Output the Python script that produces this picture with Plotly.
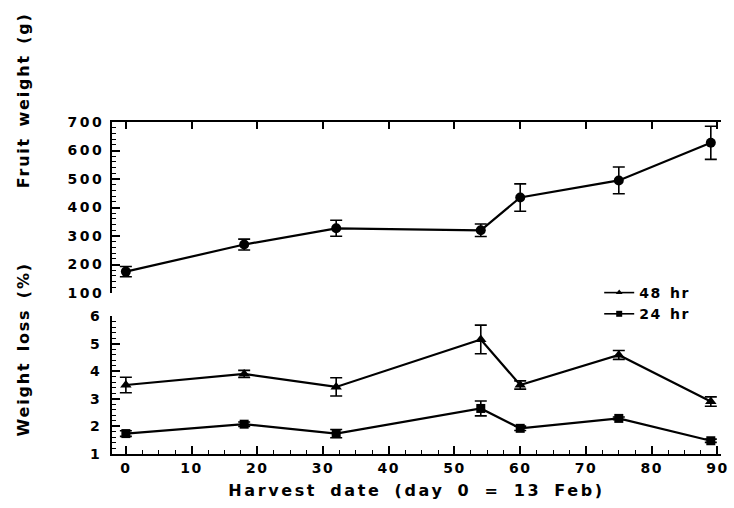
import plotly.graph_objects as go

# Harvest day (day 0 = 13 Feb)
days = [0, 18, 32, 54, 60, 75, 89]

# Fruit weight (g) with standard errors
fruit_weight = [175, 270, 327, 320, 435, 495, 627]
fruit_weight_err = [18, 19, 28, 22, 48, 47, 58]

# Weight loss (%) after 48 hr and 24 hr
loss_48 = [3.5, 3.9, 3.43, 5.15, 3.5, 4.59, 2.9]
loss_48_err = [0.28, 0.13, 0.33, 0.52, 0.15, 0.16, 0.17]
loss_24 = [1.74, 2.08, 1.74, 2.65, 1.93, 2.29, 1.48]
loss_24_err = [0.1, 0.08, 0.15, 0.27, 0.08, 0.05, 0.06]

x_ticks = [0, 10, 20, 30, 40, 50, 60, 70, 80, 90]
fw_ticks = [100, 200, 300, 400, 500, 600, 700]
wl_ticks = [1, 2, 3, 4, 5, 6]

FONT = "DejaVu Sans, Verdana, sans-serif"
INK = "black"

W, H = 734, 508
ML, MR, MT, MB = 112, 7, 122, 54
X_RANGE = [-2.11, 90.55]
PW, PH = W - ML - MR, H - MT - MB

fig = go.Figure()


def err(vals):
    return dict(type="data", array=vals, visible=True, color=INK,
                thickness=1.6, width=6)


fig.add_trace(go.Scatter(
    x=days, y=fruit_weight, error_y=err(fruit_weight_err),
    mode="lines+markers", line=dict(color=INK, width=2.2),
    marker=dict(symbol="circle", size=10, color=INK),
    xaxis="x2", yaxis="y2", showlegend=False, name="Fruit weight",
))
fig.add_trace(go.Scatter(
    x=days, y=loss_48, error_y=err(loss_48_err),
    mode="lines+markers", line=dict(color=INK, width=2.2),
    marker=dict(symbol="triangle-up", size=10, color=INK),
    xaxis="x", yaxis="y", showlegend=False, name="48 hr",
))
fig.add_trace(go.Scatter(
    x=days, y=loss_24, error_y=err(loss_24_err),
    mode="lines+markers", line=dict(color=INK, width=2.2),
    marker=dict(symbol="square", size=9, color=INK),
    xaxis="x", yaxis="y", showlegend=False, name="24 hr",
))

# legend keys: thin line with a small marker
for name, sym in [("48 hr", "triangle-up"), ("24 hr", "square")]:
    fig.add_trace(go.Scatter(
        x=[None], y=[None], mode="lines+markers", name=name,
        line=dict(color=INK, width=1.6),
        marker=dict(symbol=sym, size=6, color=INK),
        xaxis="x", yaxis="y",
    ))

top_dom = [(454 - 293) / PH, 1.0]
bot_dom = [0.0, (454 - 316) / PH]

tick_font = dict(family=FONT, size=14, color=INK, weight="bold")

fig.update_layout(
    width=W, height=H,
    margin=dict(l=ML, r=MR, t=MT, b=MB),
    paper_bgcolor="white", plot_bgcolor="white",
    font=dict(family=FONT, color=INK),
    showlegend=True,
    legend=dict(
        x=(604 - ML) / PW, y=(454 - 277) / PH,
        xanchor="left", yanchor="top",
        bgcolor="rgba(0,0,0,0)",
        font=dict(family=FONT, size=14, color=INK, weight="bold"),
        traceorder="normal", itemsizing="trace", tracegroupgap=0,
    ),
    # bottom x axis with labels
    xaxis=dict(
        domain=[0, 1], range=X_RANGE, anchor="y",
        tickmode="array", tickvals=x_ticks, ticktext=[str(v) for v in x_ticks],
        ticks="inside", ticklen=8, tickwidth=1.5, tickcolor=INK,
        minor=dict(dtick=2.5, tick0=0, ticks="inside", ticklen=4,
                   tickwidth=1.2, tickcolor=INK),
        showline=True, linecolor=INK, linewidth=2,
        showgrid=False, zeroline=False, tickfont=tick_font,
    ),
    # top frame of the fruit-weight panel
    xaxis2=dict(
        domain=[0, 1], range=X_RANGE, anchor="y2", side="top",
        tickmode="array", tickvals=x_ticks, showticklabels=False,
        ticks="inside", ticklen=7, tickwidth=1.5, tickcolor=INK,
        showline=True, linecolor=INK, linewidth=2,
        showgrid=False, zeroline=False,
    ),
    yaxis=dict(
        domain=bot_dom, range=[1, 6], anchor="x",
        tickmode="array", tickvals=wl_ticks, ticktext=[str(v) for v in wl_ticks],
        ticks="inside", ticklen=8, tickwidth=1.5, tickcolor=INK,
        minor=dict(dtick=0.2, tick0=1, ticks="inside", ticklen=4,
                   tickwidth=1.2, tickcolor=INK),
        showline=True, linecolor=INK, linewidth=2,
        showgrid=False, zeroline=False, tickfont=tick_font,
        ticklabelstandoff=5,
    ),
    yaxis2=dict(
        domain=top_dom, range=[100, 700], anchor="x2",
        tickmode="array", tickvals=fw_ticks, ticktext=[str(v) for v in fw_ticks],
        ticks="inside", ticklen=8, tickwidth=1.5, tickcolor=INK,
        minor=dict(dtick=20, tick0=100, ticks="inside", ticklen=4,
                   tickwidth=1.2, tickcolor=INK),
        showline=True, linecolor=INK, linewidth=2,
        showgrid=False, zeroline=False, tickfont=tick_font,
        ticklabelstandoff=3,
    ),
    # right-hand tick marks
    yaxis3=dict(
        overlaying="y", side="right", anchor="x", range=[1, 6],
        tickmode="array", tickvals=[2, 3, 4, 5, 6], showticklabels=False,
        ticks="outside", ticklen=6, tickwidth=1.5, tickcolor=INK,
        showline=False, showgrid=False, zeroline=False,
    ),
    yaxis4=dict(
        overlaying="y2", side="right", anchor="x2", range=[100, 700],
        tickmode="array", tickvals=[100, 200, 300, 400, 500, 600],
        showticklabels=False,
        ticks="outside", ticklen=6, tickwidth=1.5, tickcolor=INK,
        showline=False, showgrid=False, zeroline=False,
    ),
    # outer end ticks on the left axes
    yaxis5=dict(
        overlaying="y", side="left", anchor="x", range=[1, 6],
        tickmode="array", tickvals=[6], showticklabels=False,
        ticks="outside", ticklen=8, tickwidth=1.5, tickcolor=INK,
        showline=False, showgrid=False, zeroline=False,
    ),
    yaxis6=dict(
        overlaying="y2", side="left", anchor="x2", range=[100, 700],
        tickmode="array", tickvals=[100], showticklabels=False,
        ticks="outside", ticklen=8, tickwidth=1.5, tickcolor=INK,
        showline=False, showgrid=False, zeroline=False,
    ),
)

title_font = dict(family=FONT, size=16, color=INK, weight="bold")
fig.add_annotation(
    text="Fruit weight (g)", textangle=-90, showarrow=False,
    xref="paper", yref="paper",
    x=(22 - ML) / PW, y=(454 - 100) / PH,
    xanchor="center", yanchor="middle", font=title_font,
)
fig.add_annotation(
    text="Weight loss (%)", textangle=-90, showarrow=False,
    xref="paper", yref="paper",
    x=(22 - ML) / PW, y=(454 - 349) / PH,
    xanchor="center", yanchor="middle", font=title_font,
)
fig.add_annotation(
    text="Harvest date (day 0 = 13 Feb)", showarrow=False,
    xref="paper", yref="paper",
    x=(420 - ML) / PW, y=(454 - 490) / PH,
    xanchor="center", yanchor="middle", font=title_font,
)

# widen the letter spacing of all labels (typewriter-like tracking)
tracking = """
var gd = document.getElementById('{plot_id}');
function track(sel, ls, ws) {
  gd.querySelectorAll(sel).forEach(function (t) {
    t.style.letterSpacing = ls + 'px';
    if (ws) { t.style.wordSpacing = ws + 'px'; }
  });
}
track('.xtick text', 1.5);
track('.ytick text, .y2tick text', 2.5);
track('.legendtext', 1.5, 2);
gd.querySelectorAll('.annotation-text').forEach(function (t) {
  if (t.textContent.indexOf('Harvest') === 0) {
    t.style.letterSpacing = '2.6px';
    t.style.wordSpacing = '5px';
  } else {
    t.style.letterSpacing = '1.8px';
    t.style.wordSpacing = '3px';
  }
});
gd.querySelectorAll('.legend .scrollbox').forEach(function (g) {
  g.removeAttribute('clip-path');
});
"""

fig.write_html("out.html", post_script=tracking)
